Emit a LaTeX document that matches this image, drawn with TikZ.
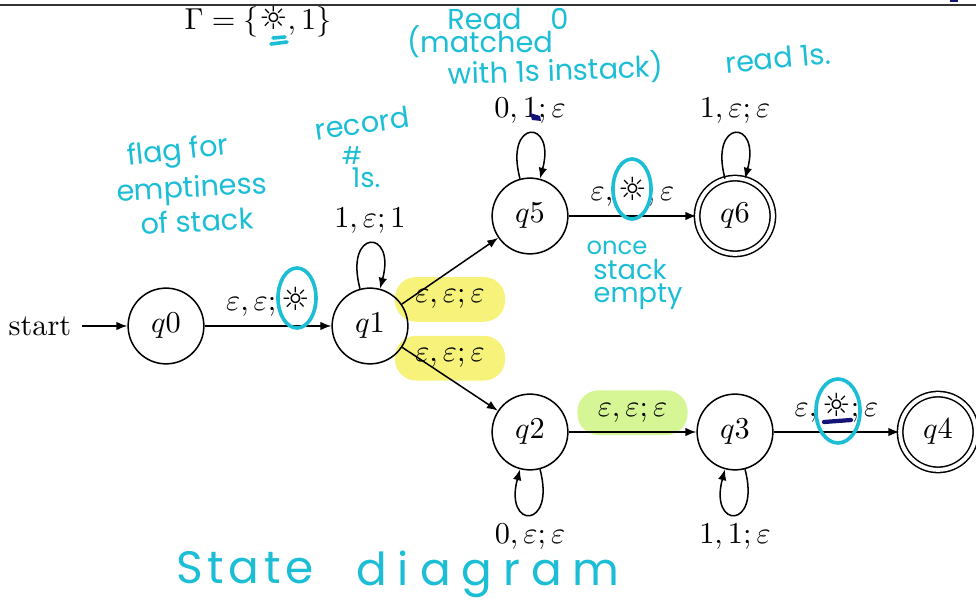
\documentclass[tikz,border=0pt]{standalone}
\usepackage{fontspec}
\newfontfamily\symfont{DejaVu Sans}
\newfontfamily\hand{Poppins}
\newfontfamily\handS{Poppins}[LetterSpace=10]
\newfontfamily\handD{Poppins}[LetterSpace=24]
\usetikzlibrary{arrows.meta,backgrounds,fit}
\definecolor{cyanink}{RGB}{28,190,214}
\definecolor{navyink}{RGB}{20,20,120}
\definecolor{hly}{RGB}{246,242,122}
\definecolor{hlg}{RGB}{214,246,150}
\newcommand{\sunx}{\mbox{\symfont\fontsize{10.5}{10}\selectfont ☼}}
\begin{document}
\begin{tikzpicture}[x=0.33pt,y=-0.33pt,>={Latex[length=3.6pt,width=2.8pt]},
  st/.style={circle,draw,line width=0.5pt,minimum size=25pt,inner sep=0pt},
  acc/.style={st,double,double distance=1.3pt},
  conn/.style={->,line width=0.5pt},
  lab/.style={inner sep=1pt},
  ink/.style={draw=cyanink,line width=1.2pt,line cap=round},
  note/.style={text=cyanink,font=\hand\fontsize{9.5}{10}\selectfont,inner sep=0pt},
  hl/.style={rounded corners=7pt,inner xsep=5.5pt,inner ysep=3pt}]
\useasboundingbox (0,0) rectangle (976,608);
\draw[line width=0.6pt,black!80] (0,5) -- (976,5);
\fill[navyink] (950,0) rectangle (958,2);

\node (gam) at (258,22) {$\Gamma=\{\sunx,1\}$};

\node (start) at (40,326) {start};
\node[st] (q0) at (166,326) {$q0$};
\node[st] (q1) at (370,326) {$q1$};
\node[st] (q5) at (530,216) {$q5$};
\node[acc] (q6) at (735,216) {$q6$};
\node[st] (q2) at (530,432) {$q2$};
\node[st] (q3) at (735,432) {$q3$};
\node[acc] (q4) at (938,432) {$q4$};

\draw[conn] (start) -- (q0);
\draw[conn] (q0) -- node[lab,above=2pt] (l01) {$\varepsilon,\varepsilon;\sunx$} (q1);
\draw[conn] (q1) -- node[lab,midway,below=5pt] (l15) {$\varepsilon,\varepsilon;\varepsilon$} (q5);
\draw[conn] (q1) -- node[lab,midway,above=2.5pt] (l12) {$\varepsilon,\varepsilon;\varepsilon$} (q2);
\draw[conn] (q5) -- node[lab,above=2pt] (l56) {$\varepsilon,\sunx;\varepsilon$} (q6);
\draw[conn] (q2) -- node[lab,above=2pt] (l23) {$\varepsilon,\varepsilon;\varepsilon$} (q3);
\draw[conn] (q3) -- node[lab,above=2pt] (l34) {$\varepsilon,\sunx;\varepsilon$} (q4);
\draw[conn] (q1) to[loop above] node[lab,above=2pt] (l11) {$1,\varepsilon;1$} (q1);
\draw[conn] (q5) to[loop above] node[lab,above=2pt] (l55) {$0,1;\varepsilon$} (q5);
\draw[conn] (q6) to[loop above] node[lab,above=2pt] (l66) {$1,\varepsilon;\varepsilon$} (q6);
\draw[conn] (q2) to[loop below] node[lab,below=2pt] (l22) {$0,\varepsilon;\varepsilon$} (q2);
\draw[conn] (q3) to[loop below] node[lab,below=2pt] (l33) {$1,1;\varepsilon$} (q3);

\begin{scope}[on background layer]
\node[hl,fit=(l15),fill=hly] {};
\node[hl,fit=(l12),fill=hly] {};
\node[hl,fit=(l23),fill=hlg] {};
\end{scope}

% ink marks
\draw[ink] (297,298) ellipse [x radius=19, y radius=30];
\draw[ink] (632,189) ellipse [x radius=19, y radius=30];
\draw[ink] (838,411) ellipse [x radius=22, y radius=32];
\draw[ink] (273,38) -- (285,37);
\draw[ink] (271,44) -- (287,42);
\draw[navyink,line width=1.4pt,line cap=round] (824,422) -- (851,420);
\fill[navyink] (530,113) -- (540,116) -- (541,121) -- (532,120) -- cycle;

% handwritten notes
\node[note] (n1) at (508,19) {Read\quad 0};
\node[note] (n2) at (480,42) {(matched};
\node[note,rotate=2] (n3) at (556,70) {with 1s instack)};
\node[note,rotate=5] (n4) at (778,58) {read 1s.};
\node[note,rotate=8] (n5) at (362,123) {record};
\node[note,font=\hand\fontsize{8}{8}\selectfont] (n6) at (352,156) {\#};
\node[note,font=\hand\fontsize{9}{9}\selectfont] (n7) at (366,178) {1s.};
\node[note,rotate=6] (n8) at (178,153) {flag for};
\node[note,rotate=3] (n9) at (192,190) {emptiness};
\node[note,rotate=3] (n10) at (197,221) {of stack};
\node[note,font=\hand\fontsize{8}{8}\selectfont] (n11) at (617,248) {once};
\node[note,font=\hand\fontsize{9}{9}\selectfont] (n12) at (630,270) {stack};
\node[note,font=\hand\fontsize{9}{9}\selectfont] (n13) at (638,297) {empty};
\node[note,font=\handS\fontsize{15}{16}\selectfont] (n14) at (245,568) {State};
\node[note,font=\handD\fontsize{15}{16}\selectfont] (n15) at (488,574) {diagram};
\end{tikzpicture}
\end{document}
